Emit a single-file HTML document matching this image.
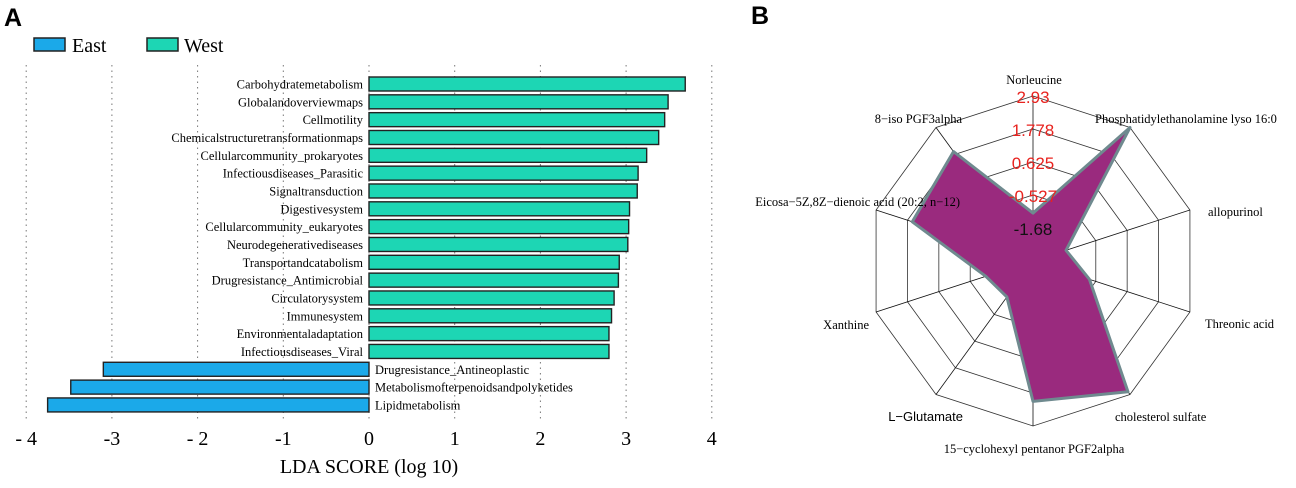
<!DOCTYPE html>
<html><head><meta charset="utf-8"><style>
body{margin:0;background:#fff;}
svg{display:block;}
text{font-family:"Liberation Serif",serif;}
</style></head><body>
<svg id="s" width="1296" height="488" viewBox="0 0 1296 488">
<text x="4" y="26" font-family="Liberation Sans" font-weight="bold" font-size="25" style="font-family:'Liberation Sans',sans-serif">A</text>
<text x="751" y="24" font-size="25" font-weight="bold" style="font-family:'Liberation Sans',sans-serif">B</text>
<g>
<rect x="34" y="38" width="31" height="13" fill="#1ba9e9" stroke="#222" stroke-width="1.5"/>
<text x="72" y="52" font-size="20">East</text>
<rect x="147" y="38" width="31" height="13" fill="#1dd6b4" stroke="#222" stroke-width="1.5"/>
<text x="184" y="52" font-size="20">West</text>
</g>
<g id="bars"></g>
<g id="radar"></g>
</svg>
<script>
const categories=["Carbohydratemetabolism","Globalandoverviewmaps","Cellmotility","Chemicalstructuretransformationmaps","Cellularcommunity_prokaryotes","Infectiousdiseases_Parasitic","Signaltransduction","Digestivesystem","Cellularcommunity_eukaryotes","Neurodegenerativediseases","Transportandcatabolism","Drugresistance_Antimicrobial","Circulatorysystem","Immunesystem","Environmentaladaptation","Infectiousdiseases_Viral","Drugresistance_Antineoplastic","Metabolismofterpenoidsandpolyketides","Lipidmetabolism"];
const ldaScores=[3.69,3.49,3.45,3.38,3.24,3.14,3.13,3.04,3.03,3.02,2.92,2.91,2.86,2.83,2.80,2.80,-3.10,-3.48,-3.75];
const xTicks=[-4,-3,-2,-1,0,1,2,3,4];
const xTickLabels=["- 4","-3","- 2","-1","0","1","2","3","4"];

const radarAxes=["Norleucine","Phosphatidylethanolamine lyso 16:0","allopurinol","Threonic acid","cholesterol sulfate","15\u2212cyclohexyl pentanor PGF2alpha","L\u2212Glutamate","Xanthine","Eicosa\u22125Z,8Z\u2212dienoic acid (20:2, n\u221212)","8\u2212iso PGF3alpha"];
const radarValues=[-1.16,2.93,-1.62,-0.76,2.81,2.07,-1.28,-1.10,1.60,1.89];
const ringLabels=["-1.68","-0.527","0.625","1.778","2.93"];
const ringValues=[-1.68,-0.527,0.625,1.778,2.93];

const NS="http://www.w3.org/2000/svg";
function mk(p,t,a){const e=document.createElementNS(NS,t);for(const k in a)e.setAttribute(k,a[k]);p.appendChild(e);return e;}
// bar chart
const bars=document.getElementById('bars');
const x0=369,ux=85.7;const xs=v=>x0+v*ux;
const ys=i=>84+i*17.83;
xTicks.forEach((t,i)=>{
 const g=mk(bars,'line',{x1:xs(t),x2:xs(t),y1:65,y2:422,stroke:'#777','stroke-width':1,'stroke-dasharray':'1.5,4'});
 
 
 const tl=mk(bars,'text',{x:xs(t),y:445,'font-size':20,'text-anchor':'middle'});
 tl.textContent=xTickLabels[i];
 
 
});
categories.forEach((c,i)=>{
 const v=ldaScores[i];const y=ys(i);
 const r=mk(bars,'rect',{x:Math.min(xs(0),xs(v)),y:y-7,width:Math.abs(xs(v)-xs(0)),height:14,fill:v>=0?'#1dd6b4':'#1ba9e9',stroke:'#222','stroke-width':1.4});
 
 
 const t=mk(bars,'text',{x:v>=0?xs(0)-6:xs(0)+6,y:y+4.5,'font-size':12.5,'text-anchor':v>=0?'end':'start'});
 t.textContent=c;
 
 
});
const xt=mk(bars,'text',{x:369,y:473,'font-size':20,'text-anchor':'middle'});
xt.textContent="LDA SCORE (log 10)";


// radar
const rad=document.getElementById('radar');
const cx=1033,cy=261,R=165;
const vmin=ringValues[0]-(ringValues[1]-ringValues[0]),vmax=ringValues[ringValues.length-1];
const rs=v=>R*(v-vmin)/(vmax-vmin);
const N=radarAxes.length;
const ang=i=>-Math.PI/2+i*2*Math.PI/N;
const pt=(i,r)=>[cx+r*Math.cos(ang(i)),cy+r*Math.sin(ang(i))];
ringValues.forEach(v=>{
 const p=[];for(let i=0;i<N;i++)p.push(pt(i,rs(v)).join(','));
 const g=mk(rad,'polygon',{points:p.join(' '),fill:'none',stroke:'#333','stroke-width':0.8});
 
 
});
for(let i=0;i<N;i++){const [x,y]=pt(i,R);const l=mk(rad,'line',{x1:cx,y1:cy,x2:x,y2:y,stroke:'#111','stroke-width':0.8});
 
 }
const pp=radarValues.map((v,i)=>pt(i,rs(v)).join(','));
const poly=mk(rad,'polygon',{points:pp.join(' '),fill:'#9a2a7e',stroke:'#6f8a8f','stroke-width':3,'stroke-linejoin':'round'});


ringValues.forEach((v,i)=>{
 const t=mk(rad,'text',{x:cx,y:cy-rs(v)+7,'font-size':17,'text-anchor':'middle',fill:i==0?'#111':'#e8231f',style:"font-family:'Liberation Sans',sans-serif"});
 t.textContent=ringLabels[i];
 
 
});
const lab=[[1034,84,'middle'],[1095,123,'start'],[1208,216,'start'],[1205,328,'start'],[1115,421,'start'],[1034,453,'middle'],[963,421,'end'],[869,329,'end'],[960,206,'end'],[962,123,'end']];
radarAxes.forEach((a,i)=>{
 const s=i==6?{style:"font-family:'Liberation Sans',sans-serif"}:{};
 const t=mk(rad,'text',Object.assign({x:lab[i][0],y:lab[i][1],'font-size':i==6?13:12.5,'text-anchor':lab[i][2]},s));
 t.textContent=a;
 
 
});
</script>
</body></html>
